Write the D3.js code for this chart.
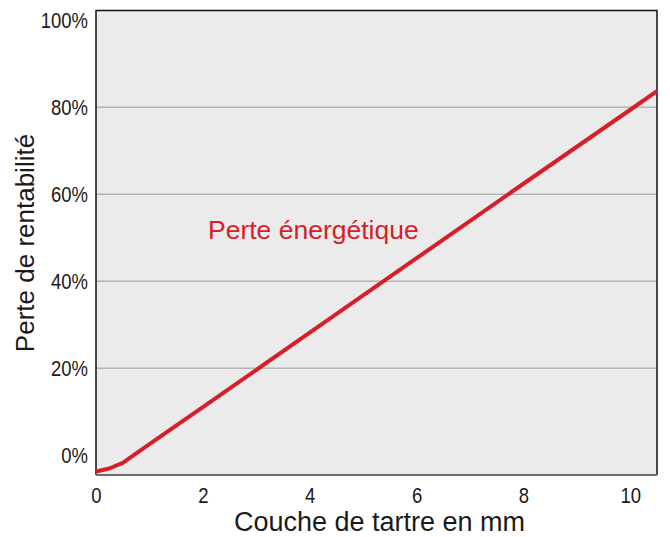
<!DOCTYPE html>
<html>
<head>
<meta charset="utf-8">
<script src="https://cdn.jsdelivr.net/npm/d3@7"></script>
<style>
  body { margin: 0; background: #fff; }
  .tick-label { font-family: "Liberation Sans", Arial, sans-serif; font-size: 22px; fill: #1a1a1a; }
  .title { font-family: "Liberation Sans", Arial, sans-serif; fill: #1a1a1a; }
</style>
</head>
<body>
<script>
const width = 670;
const height = 537;
const margin = { top: 10.5, right: 13, bottom: 62, left: 96 };

// épaisseur de tartre (mm) et perte (%)
const thickness = [0, 0.25, 0.5, 1, 2, 4, 6, 8, 10, 10.5];
const loss = [-3.7, -3.0, -1.7, 2.6, 11.1, 28.2, 45.3, 62.4, 79.4, 83.7];
const xTicks = [0, 2, 4, 6, 8, 10];
const yTicks = [0, 20, 40, 60, 80, 100];
const seriesLabel = "Perte énergétique";

const points = thickness.map((t, i) => ({ x: t, y: loss[i] }));

const svg = d3
  .select("body")
  .append("svg")
  .attr("width", width)
  .attr("height", height);

const xScale = d3
  .scaleLinear()
  .domain([0, 10.5])
  .range([margin.left, width - margin.right]);

const yScale = d3
  .scaleLinear()
  .domain([-4.5, 102.2])
  .range([height - margin.bottom, margin.top]);

// fond.
svg
  .append("rect")
  .attr("x", margin.left)
  .attr("y", margin.top)
  .attr("width", width - margin.left - margin.right)
  .attr("height", height - margin.top - margin.bottom)
  .attr("fill", "#ebebeb");

// grille.
svg
  .append("g")
  .selectAll("line")
  .data(yTicks.filter(d => d > 0 && d < 100))
  .enter()
  .append("line")
  .attr("x1", margin.left)
  .attr("x2", width - margin.right)
  .attr("y1", d => yScale(d))
  .attr("y2", d => yScale(d))
  .attr("stroke", "#b4b4b4")
  .attr("stroke-width", 1.5);

// cadre.
svg
  .append("path")
  .attr("d", `M${margin.left},${height - margin.bottom}V${margin.top}H${width - margin.right}V${height - margin.bottom}`)
  .attr("fill", "none")
  .attr("stroke", "#111")
  .attr("stroke-width", 1.5);

svg
  .append("line")
  .attr("x1", margin.left)
  .attr("x2", width - margin.right)
  .attr("y1", height - margin.bottom)
  .attr("y2", height - margin.bottom)
  .attr("stroke", "#6e6e6e")
  .attr("stroke-width", 2);

// étiquettes resserrées (police étroite).
const narrow = sel =>
  sel.each(function() {
    const w = this.getComputedTextLength();
    d3.select(this).attr("textLength", w * 0.84).attr("lengthAdjust", "spacingAndGlyphs");
  });

const xAxis = d3.axisBottom(xScale).tickValues(xTicks).tickSize(0).tickPadding(12);
const xg = svg
  .append("g")
  .attr("transform", `translate(0,${height - margin.bottom})`)
  .call(xAxis);
xg.select(".domain").remove();
xg.selectAll("text").attr("class", "tick-label").attr("font-size", null).attr("font-family", null).call(narrow);

const yAxis = d3.axisLeft(yScale).tickValues(yTicks).tickSize(0).tickPadding(8).tickFormat(d => d + "%");
const yg = svg
  .append("g")
  .attr("transform", `translate(${margin.left},0)`)
  .call(yAxis);
yg.select(".domain").remove();
yg.selectAll("text").attr("class", "tick-label").attr("font-size", null).attr("font-family", null).call(narrow);

// courbe.
const line = d3
  .line()
  .x(d => xScale(d.x))
  .y(d => yScale(d.y));

svg
  .append("path")
  .datum(points)
  .attr("d", line)
  .attr("fill", "none")
  .attr("stroke", "#d81e28")
  .attr("stroke-width", 4)
  .attr("stroke-linejoin", "round");

svg
  .append("text")
  .attr("x", 208)
  .attr("y", 239)
  .attr("fill", "#d81e28")
  .attr("font-family", "Liberation Sans, Arial, sans-serif")
  .attr("font-size", 26.5)
  .text(seriesLabel);

svg
  .append("text")
  .attr("class", "title")
  .attr("font-size", 27)
  .attr("x", (margin.left + width - margin.right) / 2 + 3)
  .attr("y", 531)
  .attr("text-anchor", "middle")
  .text("Couche de tartre en mm");

svg
  .append("text")
  .attr("class", "title")
  .attr("font-size", 26)
  .attr("transform", `translate(34,243) rotate(-90)`)
  .attr("text-anchor", "middle")
  .text("Perte de rentabilité");
</script>
</body>
</html>
